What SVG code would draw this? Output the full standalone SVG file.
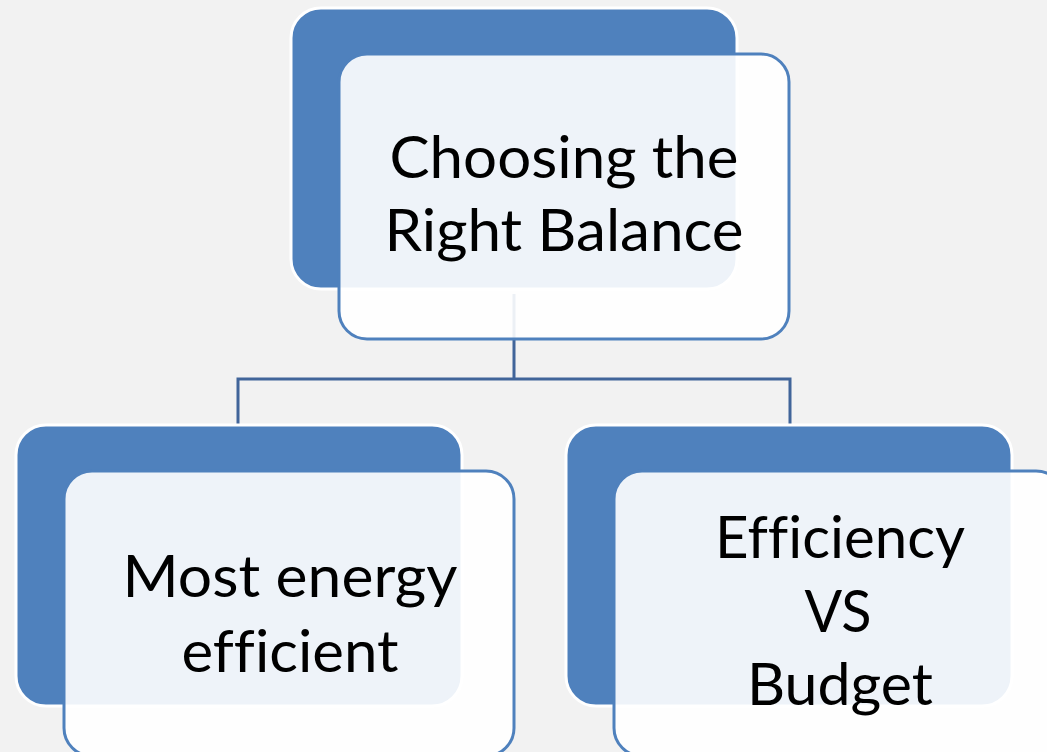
<svg xmlns="http://www.w3.org/2000/svg" width="1047" height="752" viewBox="0 0 1047 752">
  <style>
    .back { fill: #4f81bd; stroke: #ffffff; stroke-width: 3; }
    .front { fill: #ffffff; fill-opacity: 0.9; stroke: #4f81bd; stroke-width: 3; }
    .conn { fill: none; stroke: #41659a; stroke-width: 3; stroke-linejoin: miter; }
    .label { font-family: Lato, "Open Sans", "Liberation Sans", sans-serif; font-size: 59px; fill: #000000; text-anchor: middle; font-variant-ligatures: none; font-feature-settings: "liga" 0; }
  </style>
  <rect width="1047" height="752" fill="#f2f2f2"/>

  <!-- tree connectors -->
  <g id="connectors">
    <path class="conn" d="M514,294 V379 M238,425 V379 H790 V425"/>
  </g>

  <!-- root -->
  <g id="node-root">
    <rect class="back" x="291" y="8" width="446" height="281" rx="30" ry="30"/>
    <rect class="front" x="339" y="54" width="450" height="285" rx="28" ry="28"/>
    <text class="label" x="564" y="178" textLength="349" lengthAdjust="spacingAndGlyphs">Choosing the</text>
    <text class="label" x="564" y="251" textLength="359" lengthAdjust="spacingAndGlyphs">Right Balance</text>
  </g>

  <!-- left child -->
  <g id="node-energy">
    <rect class="back" x="16" y="425" width="446" height="281" rx="30" ry="30"/>
    <rect class="front" x="64" y="471" width="450" height="285" rx="28" ry="28"/>
    <text class="label" x="290" y="597" textLength="335" lengthAdjust="spacingAndGlyphs">Most energy</text>
    <text class="label" x="290" y="672" textLength="217" lengthAdjust="spacingAndGlyphs">efficient</text>
  </g>

  <!-- right child -->
  <g id="node-budget">
    <rect class="back" x="566" y="425" width="446" height="281" rx="30" ry="30"/>
    <rect class="front" x="614" y="471" width="450" height="285" rx="28" ry="28"/>
    <text class="label" x="840" y="558" textLength="250" lengthAdjust="spacingAndGlyphs">Efficiency</text>
    <text class="label" x="838" y="632" textLength="67" lengthAdjust="spacingAndGlyphs">VS</text>
    <text class="label" x="840" y="705" textLength="186" lengthAdjust="spacingAndGlyphs">Budget</text>
  </g>
</svg>
